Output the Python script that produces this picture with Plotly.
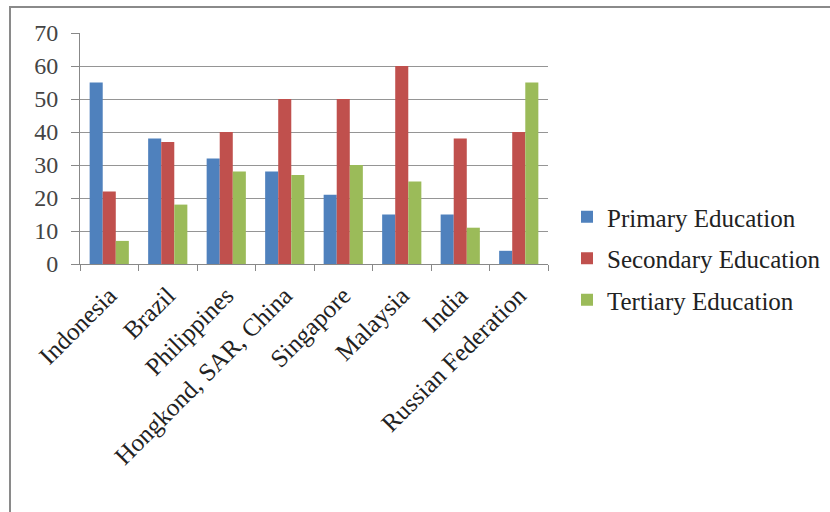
import plotly.graph_objects as go

categories = ["Indonesia", "Brazil", "Philippines", "Hongkond, SAR, China",
              "Singapore", "Malaysia", "India", "Russian Federation"]
primary = [55, 38, 32, 28, 21, 15, 15, 4]
secondary = [22, 37, 40, 50, 50, 60, 38, 40]
tertiary = [7, 18, 28, 27, 30, 25, 11, 55]
series_names = ["Primary Education", "Secondary Education", "Tertiary Education"]
colors = ["#4F81BD", "#C0504D", "#9BBB59"]
y_ticks = [0, 10, 20, 30, 40, 50, 60, 70]

W, H = 830, 512
L, R, T, B = 80, 282, 33, 248
pw, ph = W - L - R, H - T - B

fig = go.Figure()
for i, (name, vals) in enumerate(zip(series_names, [primary, secondary, tertiary])):
    fig.add_trace(go.Bar(x=categories, y=vals, name=name, marker_color=colors[i],
                         marker_line_width=0, legendgroup=name))

font = "Liberation Serif, Times New Roman, serif"

def px2paper_x(x):
    return (x - L) / pw

def px2paper_y(y):
    return (H - B - y) / ph

fig.update_layout(
    width=W, height=H,
    margin=dict(l=L, r=R, t=T, b=B, autoexpand=False),
    paper_bgcolor="white", plot_bgcolor="white",
    barmode="group", bargap=0.33, bargroupgap=0,
    font=dict(family=font, color="#222", size=22),
    xaxis=dict(type="category", tickangle=-45, showgrid=False,
               showline=True, linecolor="#888", linewidth=1,
               ticks="outside", tickson="boundaries", ticklen=6, tickcolor="#888",
               ticklabelstandoff=6,
               tickfont=dict(family=font, size=25, color="#222")),
    yaxis=dict(range=[0, 70], tickvals=y_ticks, showgrid=True, gridcolor="#959595",
               gridwidth=1, showline=True, linecolor="#888", linewidth=1,
               ticks="outside", ticklen=8, tickcolor="#888", zeroline=False,
               ticklabelstandoff=8,
               tickfont=dict(family=font, size=24, color="#444")),
    legend=dict(x=px2paper_x(567), y=px2paper_y(194), xanchor="left", yanchor="top",
                font=dict(family=font, size=25, color="#222"),
                tracegroupgap=6, itemwidth=30, bgcolor="rgba(0,0,0,0)"),
    showlegend=True,
    shapes=[dict(type="rect", xref="paper", yref="paper",
                 x0=px2paper_x(10), x1=px2paper_x(W + 20),
                 y0=px2paper_y(H + 20), y1=px2paper_y(7),
                 line=dict(color="#8a8a8a", width=2), fillcolor="rgba(0,0,0,0)",
                 layer="below")],
)

fig.write_html("out.html")
